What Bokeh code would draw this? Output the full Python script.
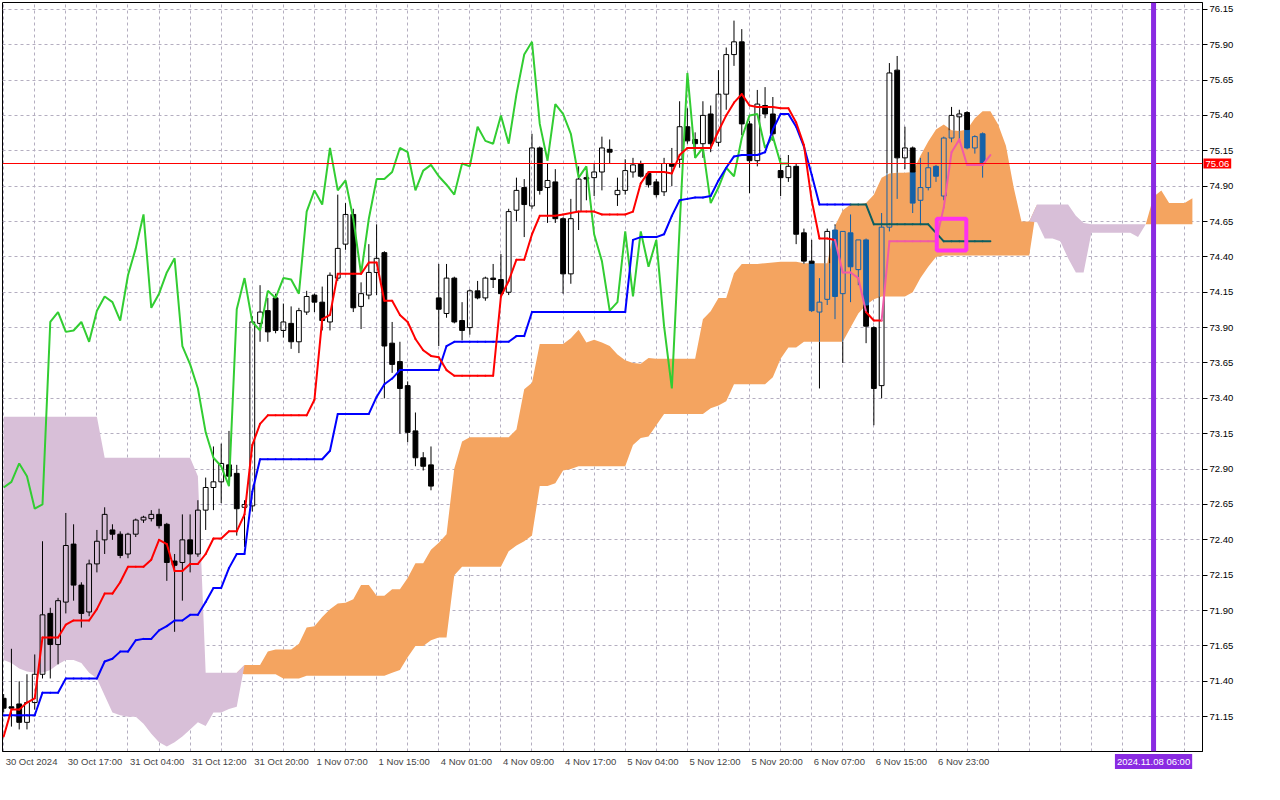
import numpy as np
from bokeh.plotting import figure
from bokeh.models import FixedTicker, Range1d, Label, Span, PrintfTickFormatter
from bokeh.embed import file_html
from bokeh.resources import INLINE

# ---------------- data ----------------
opens = [71.28, 71.22, 71.24, 71.11, 71.25, 71.45, 71.88, 71.66, 71.96, 72.37,
         72.08, 71.89, 72.23, 72.40, 72.47, 72.44, 72.30, 72.44, 72.54, 72.55,
         72.58, 72.51, 72.25, 72.24, 72.40, 72.30, 72.61, 72.77, 72.81, 72.93,
         72.87, 72.63, 72.64, 73.93, 74.02, 74.11, 73.88, 73.93, 73.80, 74.01,
         74.13, 74.08, 73.94, 74.25, 74.49, 74.70, 74.05, 74.13, 74.29, 74.43,
         73.79, 73.66, 73.49, 73.17, 72.98, 72.93, 74.11, 74.00, 74.25, 73.95,
         73.90, 74.16, 74.11, 74.25, 74.24, 74.15, 74.73, 74.89, 74.76, 75.17,
         74.89, 74.93, 74.67, 74.28, 74.72, 74.96, 74.96, 75.00, 75.16, 74.84,
         74.87, 75.00, 75.06, 74.99, 74.93, 74.86, 75.06, 75.09, 75.32, 75.23,
         75.20, 75.41, 75.21, 75.55, 75.83, 75.92, 75.34, 75.08, 75.47, 75.41,
         75.01, 74.96, 75.04, 74.57, 74.37, 74.01, 74.10, 74.59, 74.14, 74.57,
         74.31, 74.52, 73.90, 73.49, 74.61, 75.72, 75.10, 75.17, 74.80, 74.89,
         75.04, 74.83, 75.24, 75.39, 75.42, 75.17, 75.27, 75.06]
highs = [71.31, 71.63, 71.40, 71.45, 71.59, 72.39, 71.92, 71.99, 72.59, 72.51,
         72.10, 72.26, 72.47, 72.63, 72.51, 72.46, 72.45, 72.55, 72.57, 72.61,
         72.62, 72.52, 72.30, 72.58, 72.58, 72.68, 72.84, 73.06, 73.08, 73.17,
         72.93, 72.68, 73.98, 74.20, 74.11, 74.14, 74.07, 74.05, 74.04, 74.16,
         74.14, 74.19, 74.29, 74.84, 74.78, 74.74, 74.22, 74.49, 74.63, 74.44,
         73.94, 73.80, 73.52, 73.30, 73.02, 73.06, 74.35, 74.35, 74.26, 74.08,
         74.17, 74.23, 74.26, 74.35, 74.42, 74.74, 74.96, 74.95, 75.27, 75.18,
         75.06, 75.02, 74.68, 74.81, 75.04, 75.03, 75.06, 75.25, 75.23, 74.96,
         75.09, 75.10, 75.08, 75.00, 74.95, 75.10, 75.17, 75.50, 75.45, 75.28,
         75.50, 75.47, 75.72, 75.88, 76.07, 76.01, 75.36, 75.58, 75.60, 75.53,
         75.10, 75.12, 75.06, 74.60, 74.52, 74.25, 74.60, 74.63, 74.58, 74.70,
         74.52, 74.53, 73.91, 74.71, 75.77, 75.82, 75.32, 75.18, 75.10, 75.14,
         75.05, 75.25, 75.46, 75.44, 75.43, 75.26, 75.28, 75.06]
lows = [71.18, 71.08, 71.06, 71.06, 71.20, 71.42, 71.42, 71.52, 71.88, 71.97,
        71.78, 71.86, 72.17, 72.30, 72.40, 72.27, 72.27, 72.42, 72.52, 72.53,
        72.48, 72.11, 71.75, 71.97, 72.17, 72.28, 72.47, 72.61, 72.66, 72.80,
        72.43, 72.35, 72.60, 73.80, 73.80, 73.86, 73.83, 73.75, 73.72, 73.99,
        74.01, 73.88, 73.88, 74.23, 74.45, 74.01, 73.89, 74.10, 74.13, 73.40,
        73.58, 73.15, 73.09, 72.92, 72.89, 72.75, 73.77, 73.97, 73.93, 73.81,
        73.85, 74.10, 74.09, 74.18, 74.12, 74.13, 74.65, 74.54, 74.74, 74.84,
        74.64, 74.64, 74.14, 74.21, 74.59, 74.80, 74.83, 74.87, 75.06, 74.76,
        74.84, 74.96, 74.96, 74.89, 74.82, 74.83, 74.90, 75.03, 75.20, 75.10,
        75.10, 75.14, 75.18, 75.44, 75.75, 75.26, 74.85, 75.04, 75.38, 75.22,
        74.83, 74.93, 74.49, 74.35, 74.01, 73.47, 74.06, 73.96, 73.65, 74.08,
        74.20, 73.79, 73.21, 73.40, 74.58, 74.81, 75.02, 74.71, 74.63, 74.87,
        74.93, 74.80, 75.21, 75.21, 75.16, 75.13, 74.96, 75.06]
closes = [71.21, 71.21, 71.11, 71.25, 71.45, 71.87, 71.66, 71.97, 72.36, 72.08,
          71.88, 72.23, 72.39, 72.58, 72.44, 72.29, 72.44, 72.54, 72.56, 72.58,
          72.50, 72.24, 72.22, 72.40, 72.30, 72.61, 72.77, 72.81, 72.94, 72.85,
          72.62, 72.65, 73.94, 74.01, 73.87, 73.88, 73.94, 73.80, 74.02, 74.12,
          74.08, 73.95, 74.27, 74.46, 74.70, 74.04, 74.14, 74.29, 74.39, 73.77,
          73.64, 73.47, 73.16, 72.98, 72.92, 72.78, 74.03, 74.25, 73.94, 73.88,
          74.16, 74.11, 74.25, 74.24, 74.14, 74.72, 74.87, 74.77, 75.17, 74.87,
          74.94, 74.67, 74.28, 74.67, 74.95, 74.95, 75.00, 75.17, 75.14, 74.87,
          75.01, 75.05, 74.97, 74.91, 74.84, 75.06, 75.04, 75.32, 75.22, 75.20,
          75.40, 75.20, 75.55, 75.83, 75.92, 75.34, 75.08, 75.48, 75.41, 75.27,
          74.96, 75.04, 74.56, 74.37, 74.02, 74.08, 74.58, 74.12, 74.58, 74.33,
          74.52, 73.91, 73.47, 74.61, 75.70, 75.10, 75.17, 74.78, 74.89, 75.03,
          74.97, 75.24, 75.40, 75.41, 75.17, 75.25, 75.06, 75.06]

tenkan = [71.01, 71.20, 71.20, 71.25, 71.28, 71.71, 71.71, 71.71, 71.80, 71.83, 71.83, 71.83, 71.91,
          72.02, 72.02, 72.10, 72.21, 72.21, 72.21, 72.26, 72.40, 72.37, 72.18, 72.18, 72.23, 72.23,
          72.30, 72.41, 72.41, 72.46, 72.46, 72.58, 73.07, 73.22, 73.28, 73.28, 73.28, 73.28, 73.28, 73.28,
          73.39, 73.96, 73.99, 74.28, 74.28, 74.28, 74.28, 74.36, 74.36, 74.09, 74.09, 73.99, 73.94, 73.82, 73.74, 73.70,
          73.69, 73.60, 73.56, 73.56, 73.56, 73.56, 73.56, 73.56, 74.12, 74.23, 74.38, 74.38, 74.56, 74.69,
          74.69, 74.69, 74.70, 74.71, 74.72, 74.72, 74.72, 74.70, 74.70, 74.70, 74.70, 74.72, 74.92, 75.00, 75.00, 75.00,
          74.99, 75.12, 75.17, 75.17, 75.17, 75.17, 75.29, 75.40, 75.49, 75.55, 75.47, 75.46, 75.46, 75.46,
          75.45, 75.45, 75.35, 75.19, 74.80, 74.53, 74.53, 74.52, 74.29, 74.29, 74.25, 74.01, 73.95, 73.95,
          74.51, 74.51, 74.51, 74.51, 74.51, 74.51, 74.51, 74.75, 75.14, 75.23, 75.05, 75.05, 75.05, 75.12]
kijun = [71.16, 71.16, 71.16, 71.16, 71.16, 71.32, 71.32, 71.32, 71.42, 71.42, 71.42, 71.42, 71.42,
         71.54, 71.56, 71.61, 71.61, 71.69, 71.70, 71.70, 71.76, 71.79, 71.83, 71.83, 71.87, 71.87,
         71.96, 72.06, 72.06, 72.20, 72.30, 72.30, 72.74, 72.97, 72.97, 72.97, 72.97, 72.97, 72.97, 72.97, 72.97, 72.97,
         73.03, 73.29, 73.29, 73.29, 73.29, 73.29, 73.41, 73.50, 73.54, 73.60, 73.60, 73.60, 73.60, 73.60, 73.60,
         73.77, 73.80, 73.80, 73.80, 73.80, 73.80, 73.80, 73.80, 73.80, 73.84, 73.84,
         74.01, 74.01, 74.01, 74.01, 74.01, 74.01, 74.01, 74.01, 74.01, 74.01, 74.01, 74.01, 74.01,
         74.52, 74.54, 74.54, 74.54, 74.56, 74.69, 74.80, 74.81, 74.82, 74.82, 74.83, 74.94, 75.03, 75.11,
         75.12, 75.12, 75.12, 75.14, 75.30, 75.41, 75.41, 75.32, 75.18, 74.98, 74.77, 74.77, 74.77, 74.77, 74.77, 74.77, 74.77,
         74.63, 74.63, 74.63, 74.63, 74.63, 74.63, 74.63, 74.63, 74.57, 74.51, 74.51, 74.51, 74.51, 74.51, 74.51, 74.51]

# leading span A (bars 0..25, before the shifted part)
senkou_a_early = [71.55, 71.53, 71.49, 71.47, 71.46, 71.46, 71.48, 71.52, 71.55, 71.55, 71.53, 71.46, 71.42,
                  71.30, 71.18, 71.16, 71.15, 71.15, 71.10, 71.03, 70.97, 70.94, 70.97, 71.01, 71.06, 71.11]
senkou_b = [73.27] * 13 + [72.98] * 12 + [72.85] + [71.46] * 5 + [71.45] * 5 + [71.42] * 3 + [71.44] * 11 + \
    [71.46, 71.48, 71.57, 71.65, 71.65, 71.69, 71.71, 71.71] + \
    [72.15, 72.21, 72.21, 72.21, 72.21, 72.21, 72.21, 72.32, 72.36, 72.39, 72.43] + \
    [72.78, 72.78, 72.80, 72.89, 72.90, 72.92, 72.92, 72.92, 72.92, 72.92, 72.92, 72.92] + \
    [73.07, 73.12, 73.13, 73.21, 73.29, 73.29, 73.29, 73.29, 73.29, 73.29, 73.33, 73.35, 73.38] + \
    [73.50] * 5 + [73.55, 73.68, 73.76, 73.76] + [73.80] * 6 + \
    [73.90, 74.00, 74.06, 74.10, 74.12, 74.12, 74.12, 74.12, 74.15, 74.25, 74.33, 74.40] + \
    [74.41] * 12 + [74.77] * 5 + [74.69, 74.64] + [74.63] * 14

tick_bars = [0, 8, 16, 24, 32, 40, 48, 56, 64, 72, 80, 88, 96, 104, 112, 120]
tick_labels = ["30 Oct 2024", "30 Oct 17:00", "31 Oct 04:00", "31 Oct 12:00", "31 Oct 20:00",
               "1 Nov 07:00", "1 Nov 15:00", "4 Nov 01:00", "4 Nov 09:00", "4 Nov 17:00",
               "5 Nov 04:00", "5 Nov 12:00", "5 Nov 20:00", "6 Nov 07:00", "6 Nov 15:00", "6 Nov 23:00"]
price_ticks = [71.15, 71.40, 71.65, 71.90, 72.15, 72.40, 72.65, 72.90, 73.15, 73.40, 73.65,
               73.90, 74.15, 74.40, 74.65, 74.90, 75.15, 75.40, 75.65, 75.90, 76.15]
current_price = 75.06
cursor_bar = 148
cursor_label = "2024.11.08 06:00"
marker_bar = 122
marker_price = 74.557

# ---------------- derived series ----------------
n = len(closes)
senkou_a = senkou_a_early + [(t + k) / 2 for t, k in zip(tenkan, kijun)]
sa = np.array(senkou_a)
sb = np.array(senkou_b)
cloud_x = np.arange(len(sb))

# ---------------- layout ----------------
X0, X1 = -0.15, 154.3
Y0, Y1 = 70.904, 76.198
W, H = 1264, 784
BL, BR, BT, BB = 2, 62, 2, 29
FW = W - BL - BR
FH = H - BT - BB
ppb = FW / (X1 - X0)
ppu = FH / (Y1 - Y0)

FONT = "Liberation Sans"
FS = "9.5px"

ORANGE = "#F4A460"
THISTLE = "#D8BFD8"
BLACK = "#000000"
IN_BLUE = "#1461A8"
RED = "#FF0000"
PINK = "#F05AA8"
BLUE = "#0000FF"
TEAL = "#0B5E60"
GREEN = "#32CD32"
VIOLET = "#8A2BE2"

p = figure(width=W, height=H, x_range=Range1d(X0, X1), y_range=Range1d(Y0, Y1),
           output_backend="svg", toolbar_location=None, y_axis_location="right",
           min_border_left=BL, min_border_right=BR, min_border_top=BT, min_border_bottom=BB)
p.background_fill_color = "white"
p.border_fill_color = "white"
p.outline_line_color = "black"
p.outline_line_width = 1

# grid
p.xgrid.ticker = FixedTicker(ticks=list(range(0, 155, 4)))
for g in (p.xgrid, p.ygrid):
    g.grid_line_color = "#B4AEC0"
    g.grid_line_dash = "3 3"
    g.grid_line_width = 1

# right price axis
p.yaxis.ticker = FixedTicker(ticks=price_ticks)
p.yaxis.formatter = PrintfTickFormatter(format="%.2f")
p.yaxis.major_tick_in = 0
p.yaxis.major_tick_out = 5
p.yaxis.minor_tick_line_color = None
p.yaxis.major_label_standoff = 2
p.yaxis.major_label_text_font = FONT
p.yaxis.major_label_text_font_size = FS
p.yaxis.major_label_text_color = "black"
p.yaxis.axis_line_color = "black"

# bottom time axis: labels start at their bar (left aligned)
CW = {'0': .556, '1': .556, '2': .556, '3': .556, '4': .556, '5': .556, '6': .556, '7': .556,
      '8': .556, '9': .556, ' ': .278, ':': .278, '.': .278, 'O': .778, 'c': .5, 't': .278,
      'N': .722, 'o': .556, 'v': .5}


def text_w(s):
    return sum(CW.get(ch, .556) for ch in s) * 9.5


tick_pos = [round(b + (2 + text_w(lbl) / 2) / ppb, 4) for b, lbl in zip(tick_bars, tick_labels)]
p.xaxis.ticker = FixedTicker(ticks=tick_pos)
p.xaxis.major_label_overrides = {tp: lbl for tp, lbl in zip(tick_pos, tick_labels)}
p.xaxis.major_tick_in = 0
p.xaxis.major_tick_out = 0
p.xaxis.minor_tick_line_color = None
p.xaxis.major_label_standoff = 4
p.xaxis.major_label_text_font = FONT
p.xaxis.major_label_text_font_size = FS
p.xaxis.axis_line_color = "black"

# ---------------- cloud ----------------
top = np.maximum(sa, sb)
p.varea(x=cloud_x, y1=sb, y2=top, fill_color=ORANGE)
p.varea(x=cloud_x, y1=sa, y2=top, fill_color=THISTLE)


def cloud_at(i):
    if 0 <= i < len(sa) and sa[i] > sb[i]:
        return (sb[i], sa[i])
    return None


def pieces(a, b, rng):
    if rng is None:
        return [(a, b, False)]
    lo, hi = rng
    out = []
    if a < lo:
        out.append((a, min(b, lo), False))
    if b > lo and a < hi:
        out.append((max(a, lo), min(b, hi), True))
    if b > hi:
        out.append((max(a, hi), b, False))
    return [o for o in out if o[1] > o[0]]


def inside(v, rng):
    return rng is not None and rng[0] <= v <= rng[1]


# ---------------- candles ----------------
BW = 0.62
seg = dict(x0=[], y0=[], x1=[], y1=[], c=[])
bars_v = dict(x=[], top=[], bottom=[], c=[])


def add_seg(x0, y0, x1, y1, c):
    seg["x0"].append(x0); seg["y0"].append(y0); seg["x1"].append(x1); seg["y1"].append(y1); seg["c"].append(c)


for i in range(n):
    o, h, l, c = opens[i], highs[i], lows[i], closes[i]
    rng = cloud_at(i)
    blo, bhi = min(o, c), max(o, c)
    for a, b, ins in pieces(l, blo, rng) + pieces(bhi, h, rng):
        add_seg(i, a, i, b, IN_BLUE if ins else BLACK)
    if c < o:
        for a, b, ins in pieces(blo, bhi, rng):
            bars_v["x"].append(i); bars_v["bottom"].append(a); bars_v["top"].append(b)
            bars_v["c"].append(IN_BLUE if ins else BLACK)
    elif c > o:
        for xe in (i - BW / 2, i + BW / 2):
            for a, b, ins in pieces(blo, bhi, rng):
                add_seg(xe, a, xe, b, IN_BLUE if ins else BLACK)
        for yv in (blo, bhi):
            add_seg(i - BW / 2, yv, i + BW / 2, yv, IN_BLUE if inside(yv, rng) else BLACK)
    else:
        add_seg(i - BW / 2, o, i + BW / 2, o, IN_BLUE if inside(o, rng) else BLACK)

p.vbar(x=bars_v["x"], top=bars_v["top"], bottom=bars_v["bottom"], width=BW,
       fill_color=bars_v["c"], line_color=bars_v["c"], line_width=1)
p.segment(x0=seg["x0"], y0=seg["y0"], x1=seg["x1"], y1=seg["y1"], line_color=seg["c"], line_width=1)


# ---------------- indicator lines ----------------
def colored_line(vals, out_c, in_c, width=2):
    x0, y0, x1, y1, cc = [], [], [], [], []
    for i in range(len(vals) - 1):
        r0, r1 = cloud_at(i), cloud_at(i + 1)
        ym = (vals[i] + vals[i + 1]) / 2
        ins = False
        if r0 is not None and r1 is not None:
            lo = (r0[0] + r1[0]) / 2
            hi = (r0[1] + r1[1]) / 2
            ins = lo <= ym <= hi
        x0.append(i); y0.append(vals[i]); x1.append(i + 1); y1.append(vals[i + 1])
        cc.append(in_c if ins else out_c)
    p.segment(x0=x0, y0=y0, x1=x1, y1=y1, line_color=cc, line_width=width, line_cap="round")


# lagging span: the closes drawn 26 bars back
p.line(x=list(range(n - 26)), y=closes[26:], line_color=GREEN, line_width=2)
colored_line(kijun, BLUE, TEAL)
colored_line(tenkan, RED, PINK)

# ---------------- annotations ----------------
p.add_layout(Span(location=current_price, dimension="width", line_color=RED, line_width=1))
p.add_layout(Span(location=cursor_bar, dimension="height", line_color=VIOLET, line_width=5))
p.rect(x=[marker_bar], y=[marker_price], width=3.8, height=0.225, fill_alpha=0,
       line_color="#FF30F0", line_width=4)

# tags outside the frame: labels laid out in side panels (so they are not clipped),
# positioned in data coordinates
price_lbl = Label(x=X1 + 0.12, y=current_price, text="%.2f" % current_price, text_font=FONT,
                  text_font_size=FS, text_color="white", text_align="left", text_baseline="middle",
                  background_fill_color=RED)
date_lbl = Label(x=cursor_bar, y=Y0 - 10.0 / ppu, text=cursor_label, text_font=FONT,
                 text_font_size=FS, text_color="white", text_align="center", text_baseline="middle",
                 background_fill_color=VIOLET)
for lb in (price_lbl, date_lbl):
    try:
        lb.padding = 2
    except Exception:
        pass
p.add_layout(price_lbl, "right")
p.add_layout(date_lbl, "below")

open("out.html", "w").write(file_html(p, INLINE))
